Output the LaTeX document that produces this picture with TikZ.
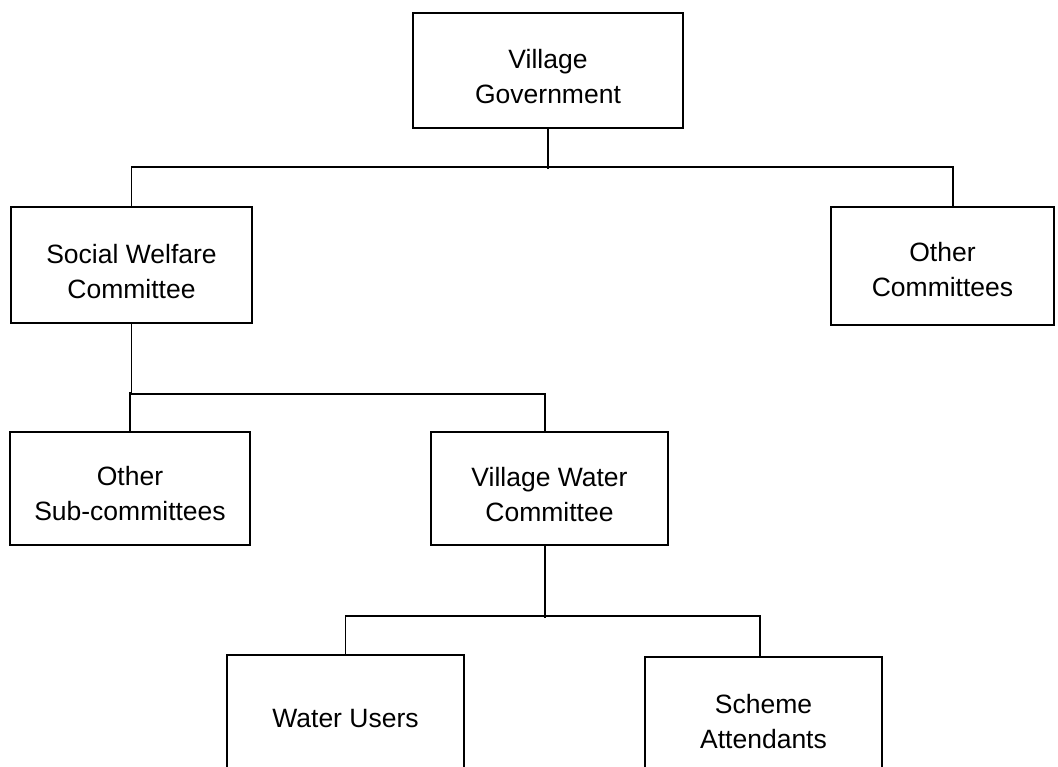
\documentclass[tikz,border=0pt]{standalone}
\usepackage{fontspec}
\setmainfont{Liberation Sans}
\usetikzlibrary{calc}
\begin{document}
\begin{tikzpicture}[x=1pt,y=1pt,
  orgbox/.style={draw=black, line width=2pt, fill=white, inner sep=0pt},
  boxtext/.style={inner sep=0pt, align=center, font=\fontsize{26.5}{35}\selectfont},
  conn/.style={draw=black, line width=1.5pt}]
\clip (0,0) rectangle (1058,-767);
\fill[white] (0,0) rectangle (1058,-767);

% boxes of the organisation chart
\node[orgbox, minimum width=270pt, minimum height=115pt] (vg)  at (548,-70.5)  {};
\node[orgbox, minimum width=241pt, minimum height=116pt] (swc) at (131.5,-265) {};
\node[orgbox, minimum width=223pt, minimum height=118pt] (oc)  at (942.5,-266) {};
\node[orgbox, minimum width=240pt, minimum height=113pt] (osc) at (130,-488.5) {};
\node[orgbox, minimum width=237pt, minimum height=113pt] (vwc) at (549.5,-488.5) {};
\node[orgbox, minimum width=237pt, minimum height=130pt] (wu)  at (345.5,-720)  {};
\node[orgbox, minimum width=237pt, minimum height=130pt] (sa)  at (763.5,-722)  {};

% box captions
\node[boxtext] (vgt)  at ([yshift=-6pt]vg.center)  {Village\\Government};
\node[boxtext] (swct) at ([yshift=-7pt]swc.center) {Social Welfare\\Committee};
\node[boxtext] (oct)  at ([yshift=-4pt]oc.center)  {Other\\Committees};
\node[boxtext] (osct) at ([yshift=-5pt]osc.center) {Other\\Sub-committees};
\node[boxtext] (vwct) at ([yshift=-6pt]vwc.center) {Village Water\\Committee};
\node[boxtext] (wut)  at ([yshift=1pt]wu.center)   {Water Users};
\node[boxtext] (sat)  at ([yshift=0pt]sa.center)   {Scheme\\Attendants};

% tree connectors
\coordinate (ocin) at ([xshift=10.5pt]oc.north);
\draw[conn] (vg.south) -- ++(0,-40);
\draw[conn] (swc.north) -- ++(0,39) -| (ocin);

\coordinate (vwcin) at ([xshift=-4.5pt]vwc.north);
\draw[conn] (swc.south) -- ++(0,-70) -| (vwcin);
\draw[conn] (osc.north) -- ++(0,39);

\coordinate (wuin) at (wu.north);
\coordinate (sain) at ([xshift=-3.5pt]sa.north);
\draw[conn] ([xshift=-4.5pt]vwc.south) -- ++(0,-72);
\draw[conn] (wuin) -- ++(0,38) -| (sain);
\end{tikzpicture}
\end{document}
